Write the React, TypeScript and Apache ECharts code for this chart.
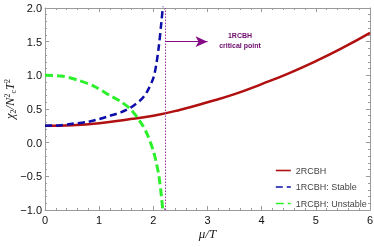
import React, { useEffect, useRef } from "react";
import * as echarts from "echarts";

const xTicks = [0, 1, 2, 3, 4, 5, 6];
const yTicks = [-1.0, -0.5, 0.0, 0.5, 1.0, 1.5, 2.0];

const redMu = [0, 0.5, 1, 1.5, 2, 2.5, 3, 3.5, 4, 4.5, 5, 5.5, 6];
const redChi = [0.25, 0.26, 0.29, 0.34, 0.4, 0.49, 0.6, 0.72, 0.87, 1.03, 1.21, 1.41, 1.63];

const blueMu = [0, 0.3, 0.5, 0.8, 1.0, 1.2, 1.4, 1.6, 1.8, 1.9, 2.0, 2.05, 2.1, 2.15, 2.18];
const blueChi = [0.25, 0.26, 0.28, 0.31, 0.35, 0.4, 0.45, 0.53, 0.66, 0.78, 0.96, 1.14, 1.42, 1.8, 2.05];

const greenMu = [0, 0.3, 0.6, 0.9, 1.2, 1.4, 1.6, 1.8, 1.9, 2.0, 2.05, 2.1, 2.15, 2.18];
const greenChi = [1.0, 0.99, 0.93, 0.84, 0.7, 0.61, 0.48, 0.26, 0.1, -0.12, -0.28, -0.48, -0.8, -1.05];

const criticalMu = 2.2214;
const arrowFrom = [2.2214, 1.5];
const arrowTo = [3.0, 1.5];
const noteAt = [3.6, 1.51];

const seriesNames = ["2RCBH", "1RCBH: Stable", "1RCBH: Unstable"];

const zip = (a: number[], b: number[]) => a.map((v, i) => [v, b[i]]);

export default function App() {
  const ref = useRef<HTMLDivElement>(null);
  useEffect(() => {
    if (!ref.current) return;
    const chart = echarts.init(ref.current, null, { renderer: "svg" });
    const axisCol = "#9a9a9a";
    const labelFont = "Liberation Sans";
    const xBase = {
      type: "value",
      min: 0,
      max: 6,
      interval: 1,
      axisLine: { show: true, onZero: false, lineStyle: { color: axisCol, width: 1 } },
      axisTick: { show: true, inside: true, length: 4, lineStyle: { color: axisCol } },
      minorTick: { show: true, splitNumber: 5, length: 2, lineStyle: { color: axisCol } },
      splitLine: { show: false },
    };
    const yBase = {
      type: "value",
      min: -1,
      max: 2,
      interval: 0.5,
      axisLine: { show: true, onZero: false, lineStyle: { color: axisCol, width: 1 } },
      axisTick: { show: true, inside: true, length: 4, lineStyle: { color: axisCol } },
      minorTick: { show: true, splitNumber: 5, length: 2, lineStyle: { color: axisCol } },
      splitLine: { show: false },
    };
    chart.setOption({
      animation: false,
      grid: { left: 45, right: 4, top: 8, bottom: 37, outerBoundsMode: "none", containLabel: false },
      graphic: [
        {
          type: "text",
          x: 10,
          y: 99,
          rotation: Math.PI / 2,
          style: {
            text: "{a|χ}{s|2}{a|/N}{p|2}{s|c}{a|T}{p|2}",
            align: "center",
            verticalAlign: "middle",
            fill: "#222",
            rich: {
              a: { fontSize: 12.5, fontFamily: "Liberation Serif", fontStyle: "italic", fill: "#222" },
              s: { fontSize: 8, fontFamily: "Liberation Serif", fill: "#222", verticalAlign: "bottom", padding: [6, 0, 0, 0] },
              p: { fontSize: 8, fontFamily: "Liberation Serif", fill: "#222", verticalAlign: "top", padding: [0, 0, 6, 0] },
            },
          },
        },
      ],
      xAxis: [
        {
          ...xBase,
          position: "bottom",
          axisLabel: {
            color: "#111",
            fontSize: 11,
            fontFamily: labelFont,
            margin: 4,
            formatter: (v: number) => (xTicks.includes(v) ? String(v) : ""),
          },
          name: "μ/T",
          nameLocation: "middle",
          nameGap: 17,
          nameMoveOverlap: false,
          nameTextStyle: { color: "#222", fontSize: 13, fontFamily: "Liberation Serif", fontStyle: "italic" },
        },
        { ...xBase, position: "top", axisLabel: { show: false } },
      ],
      yAxis: [
        {
          ...yBase,
          position: "left",
          axisLabel: {
            color: "#111",
            fontSize: 11,
            fontFamily: labelFont,
            margin: 3,
            formatter: (v: number) => (yTicks.includes(v) ? v.toFixed(1).replace("-", "−") : ""),
          },
        },
        { ...yBase, position: "right", axisLabel: { show: false } },
      ],
      legend: {
        orient: "vertical",
        left: 275,
        top: 166,
        padding: 0,
        itemWidth: 15,
        itemHeight: 8,
        itemGap: 7.5,
        itemStyle: { opacity: 0 },
        lineStyle: { width: 1.6 },
        textStyle: { fontSize: 9, color: "#444", fontFamily: labelFont },
        data: seriesNames,
      },
      series: [
        {
          name: seriesNames[0],
          type: "line",
          data: zip(redMu, redChi),
          smooth: true,
          showSymbol: false,
          symbol: "none",
          lineStyle: { color: "#b01010", width: 2.5 },
          itemStyle: { color: "#b01010" },
          markLine: {
            silent: true,
            symbol: ["none", "none"],
            label: { show: false },
            lineStyle: { color: "#a030a0", type: [1.5, 1.5], width: 1 },
            data: [{ xAxis: criticalMu }],
          },
        },
        {
          name: seriesNames[1],
          type: "line",
          data: zip(blueMu, blueChi),
          smooth: 0.3,
          showSymbol: false,
          symbol: "none",
          lineStyle: { color: "#0c0ca8", width: 2.5, type: [7, 4] },
          itemStyle: { color: "#0c0ca8" },
          markLine: {
            silent: true,
            symbol: ["none", "arrow"],
            symbolSize: [8, 12],
            label: { show: false },
            lineStyle: { color: "#850a85", type: "solid", width: 1.2 },
            data: [[{ coord: arrowFrom }, { coord: arrowTo }]],
          },
        },
        {
          name: seriesNames[2],
          type: "line",
          data: zip(greenMu, greenChi),
          smooth: 0.3,
          showSymbol: false,
          symbol: "none",
          lineStyle: { color: "#2cf02c", width: 3, type: [8, 4] },
          itemStyle: { color: "#2cf02c" },
          markPoint: {
            silent: true,
            symbol: "circle",
            symbolSize: 0,
            label: {
              show: true,
              position: "inside",
              formatter: "1RCBH\ncritical point",
              color: "#6a0a6a",
              fontSize: 7,
              fontWeight: "bold",
              lineHeight: 10,
              fontFamily: labelFont,
            },
            data: [{ coord: noteAt }],
          },
        },
      ],
    });
    return () => chart.dispose();
  }, []);
  return <div ref={ref} style={{ position: "fixed", left: 0, top: 0, width: 374, height: 247 }} />;
}
